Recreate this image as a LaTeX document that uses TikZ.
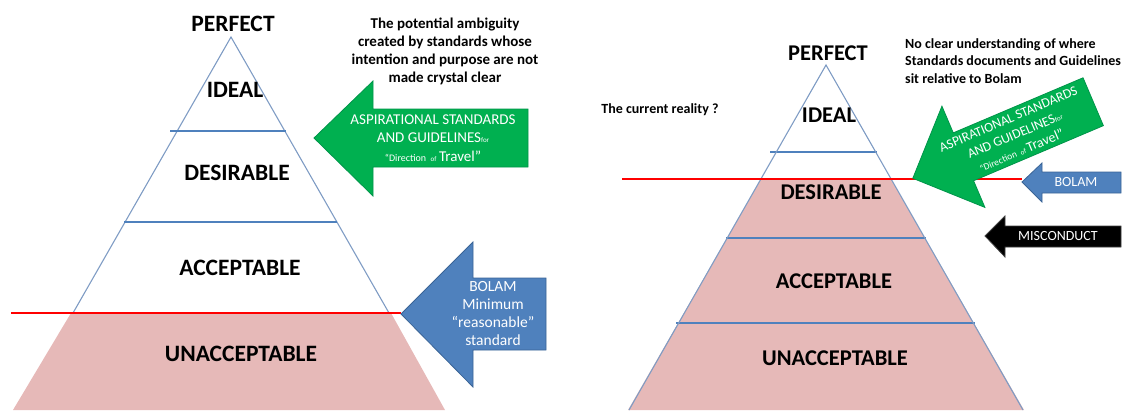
\documentclass[tikz,border=0pt]{standalone}
\usepackage{fontspec}
\setmainfont{Carlito}
\definecolor{pinkfill}{HTML}{E6B9B8}
\definecolor{edgeblue}{HTML}{7F9CC4}
\definecolor{divblue}{HTML}{4F81BD}
\definecolor{arrowgreen}{HTML}{00B050}
\definecolor{greenedge}{HTML}{00944A}
\definecolor{arrowblue}{HTML}{4F81BD}
\definecolor{blueedge}{HTML}{3A6496}
\definecolor{redline}{HTML}{FF0000}
\begin{document}
\begin{tikzpicture}[x=1pt,y=-1pt,
  level/.style={font=\fontsize{23.5}{28}\selectfont\bfseries, inner sep=0},
  levelsmall/.style={font=\fontsize{22.5}{27}\selectfont\bfseries, inner sep=0},
  note/.style={font=\fontsize{15}{18}\selectfont\bfseries, align=center, inner sep=0},
  arrowtext/.style={text=white, align=center, inner sep=0},
  edge/.style={draw=edgeblue, line width=1.1pt},
  divider/.style={draw=divblue, line width=1.8pt},
  bolamline/.style={draw=redline, line width=1.8pt},
  greenarrow/.style={fill=arrowgreen, draw=greenedge, line width=0.8pt},
  bluearrow/.style={fill=arrowblue, draw=blueedge, line width=0.8pt},
  blackarrow/.style={fill=black, draw=black!75, line width=0.8pt}]
\useasboundingbox (0,0) rectangle (1124,410);

% ---------- left pyramid ----------
\fill[pinkfill] (71,313) -- (391,313) -- (445,410) -- (13,410) -- cycle;
\draw[edge] (73,313) -- (231,37) -- (389,313);
\draw[divider] (170,131) -- (286,131);
\draw[divider] (124,222) -- (337,222);
\draw[bolamline] (11,313) -- (401,313);

\node[level] (perfectL) at (233,24) {PERFECT};
\node[level] (idealL) at (235,90) {IDEAL};
\node[level] (desirableL) at (237,173) {DESIRABLE};
\node[level] (acceptableL) at (240,268) {ACCEPTABLE};
\node[level] (unacceptableL) at (241,354) {UNACCEPTABLE};

\node[note] (ambiguity) at (445,51)
  {The potential ambiguity\\created by standards whose\\intention and purpose are not\\made crystal clear};

% aspirational standards arrow
\draw[greenarrow] (314,138) -- (373,81) -- (373,109) -- (528,109) -- (528,167)
  -- (373,167) -- (373,196) -- cycle;
\node[arrowtext, font=\fontsize{15}{18.5}\selectfont] (aspL) at (433,138)
  {ASPIRATIONAL STANDARDS\\AND GUIDELINES{\fontsize{7}{8}\selectfont for}\\
   {\fontsize{10}{12}\selectfont “Direction\ \ {\fontsize{7}{8}\selectfont of}}\,{\fontsize{15}{18}\selectfont Travel”}};

% minimum standard arrow
\draw[bluearrow] (401,314) -- (473,242) -- (473,278) -- (546,278) -- (546,350)
  -- (473,350) -- (473,387) -- cycle;
\node[arrowtext, font=\fontsize{15.5}{18}\selectfont] (bolamL) at (493,314)
  {BOLAM\\Minimum\\“reasonable”\\standard};

% ---------- right pyramid ----------
\fill[pinkfill] (761,179) -- (891,179) -- (1024,410) -- (628,410) -- cycle;
\draw[divider] (770,152) -- (877,152);
\draw[divider] (726,238) -- (926,238);
\draw[divider] (676,323) -- (975,323);
\draw[edge] (629,410) -- (826,65) -- (1023,410);
\draw[bolamline] (622,179) -- (1022,179);

\node[levelsmall] (perfectR) at (828,53) {PERFECT};
\node[levelsmall] (idealR) at (829,115) {IDEAL};
\node[levelsmall] (desirableR) at (831,192) {DESIRABLE};
\node[levelsmall] (acceptableR) at (834,281) {ACCEPTABLE};
\node[levelsmall] (unacceptableR) at (835,358) {UNACCEPTABLE};

\node[note, font=\fontsize{14}{17.5}\selectfont\bfseries] (reality) at (660,110) {The current reality ?};
\node[note, font=\fontsize{14}{17.5}\selectfont\bfseries, align=left, anchor=west] (unclear) at (905,61)
  {No clear understanding of where\\Standards documents and Guidelines\\sit relative to Bolam};

% tilted aspirational standards arrow
\begin{scope}[shift={(1003,140)}, rotate=23]
  \draw[greenarrow] (-98,0) -- (-43,-55) -- (-43,-26) -- (98,-26) -- (98,26)
    -- (-43,26) -- (-43,55) -- cycle;
  \node[arrowtext, rotate=23, font=\fontsize{13.5}{17}\selectfont] (aspR) at (13,0)
    {ASPIRATIONAL STANDARDS\\AND GUIDELINES{\fontsize{7}{8}\selectfont for}\\
     {\fontsize{9.5}{11}\selectfont “Direction\ \ {\fontsize{7}{8}\selectfont of}}\,{\fontsize{14}{17}\selectfont Travel”}};
\end{scope}

% bolam and misconduct arrows
\draw[bluearrow] (1022,182) -- (1042,163) -- (1042,172) -- (1121,172) -- (1121,193)
  -- (1042,193) -- (1042,202) -- cycle;
\node[arrowtext, font=\fontsize{14}{16}\selectfont] (bolamR) at (1076,182) {BOLAM};

\draw[blackarrow] (985,236) -- (1005,216) -- (1005,226) -- (1121,226) -- (1121,247)
  -- (1005,247) -- (1005,257) -- cycle;
\node[arrowtext, font=\fontsize{14}{16}\selectfont] (misconduct) at (1058,236) {MISCONDUCT};
\end{tikzpicture}
\end{document}
